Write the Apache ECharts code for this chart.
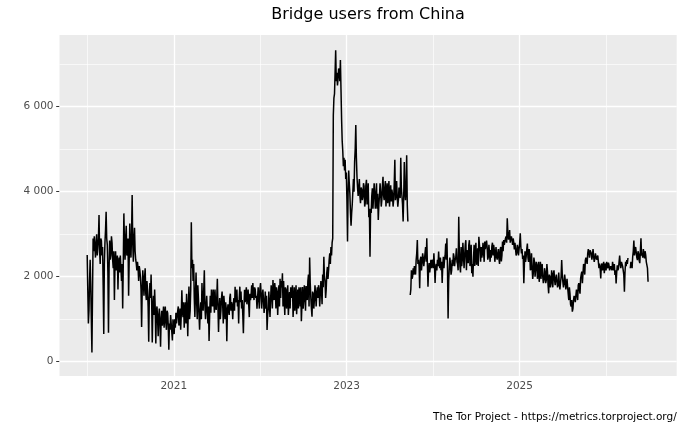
<!DOCTYPE html>
<html><head><meta charset="utf-8">
<script src="https://cdn.jsdelivr.net/npm/echarts@6/dist/echarts.min.js"></script>
<style>html,body{margin:0;padding:0;background:#fff}#chart{width:690px;height:431px}</style>
</head><body><div id="chart"></div>
<script>
const titleText = 'Bridge users from China';
const captionText = 'The Tor Project - https://metrics.torproject.org/';
const startDate = '2020-01-01';
const stepDays = 5;
// readings every 5 days from startDate
const users = [
2510,900,1900,1800,220,2900,2950,2450,3000,2700,
3450,2300,2850,2700,650,2800,3530,2750,680,2850,
2500,2800,2200,1450,2600,2300,1700,2450,2500,1900,
1250,3490,2400,3200,2550,1550,3250,2450,3920,2350,
3150,2400,2150,2200,2250,2000,820,2150,1550,2200,
1450,1700,470,1850,2050,450,1550,1700,430,1300,
600,1250,350,1200,1050,800,1300,750,1150,280,
750,900,500,860,1000,1150,1050,1300,1000,750,
1680,1050,800,1400,1600,600,1770,1200,3280,2400,
2300,1050,2100,1000,1500,750,1400,1850,1200,2150,
1000,1550,900,490,1550,1700,1300,1500,1700,1220,
1950,700,1500,1200,1650,900,1350,1400,480,1350,
1100,1600,1400,
1000,1500,1766,1450,1300,900,1766,1650,1450,668,
1690,1600,1350,1700,1050,1450,1800,1850,1450,1700,
1550,1500,1480,1720,1600,1550,1450,1350,1250,745,
1250,1370,1450,1600,1920,1450,1680,1750,1100,1800,
1950,1900,2080,1900,1100,1700,1550,1100,1640,1750,
1500,1050,1750,1500,1120,1700,1750,1300,950,1760,
1450,1600,1780,1450,2050,2450,1500,1060,1600,1450,
1620,1600,1500,1700,1600,1680,2050,2470,1900,1700,
2230,2150,2550,2700,2800,5800,6300,7330,6800,6650,
6850,7100,5700,4950,4800,4750,4450,2830,4500,3950,
3200,3700,4300,4700,5570,4350,3900,4300,3730,4050,
3880,4130,3730,4280,3820,3400,2470,3500,4080,3880,
4000,3800,3600,3335,3900,4000,3800,4350,3800,4250,
3950,3730,4250,3900,3770,3950,3800,4750,3900,3880,
3800,4000,4800,3900,3300,4700,3800,4860,3300,null,
1570,2150,2000,2050,2240,2390,2864,2400,1727,2470,
2320,2430,2400,2700,2903,1765,2320,2250,2200,2320,
2550,1850,2300,2400,2590,2200,2150,1850,2470,2400,
2780,2903,1020,2200,2300,2150,2250,2470,2400,2670,
2300,3413,2250,2700,2400,2780,2470,2860,2630,2320,
2860,2450,2080,2000,2750,2550,2280,2670,2940,2630,
2700,2550,2790,2830,2630,2700,2470,2560,2630,2720,
2500,2640,2500,2470,2550,2420,2630,2360,2830,2860,
2780,2950,3373,2870,3100,2900,2870,2900,2640,2660,
2550,2670,2650,3020,2550,2420,1844,2600,2470,2780,
2350,2550,2200,2220,2080,2350,2000,2280,2200,1880,
2350,2200,2000,1920,2120,1920,2120,1609,2000,1840,
2000,2080,1920,1960,2040,1800,1840,1720,2393,1880,
1840,1920,1800,1760,1450,1610,1295,1177,1450,1500,
1560,1690,1800,1690,1960,2120,2080,2240,2390,2470,
2550,2590,2620,2550,2510,2470,2430,2510,2390,2350,
2310,1960,2310,2280,2080,2310,2350,2200,2270,2120,
2240,2350,2150,2040,1840,2270,2200,2500,2200,2390,
2240,1648,2350,2390,2440,null,2200,2280,2470,2850,
2470,2660,2390,2550,2320,2903,2550,2650,2430,2510,2390,1883
];
// readings half-way between consecutive entries of users (2.5 days later)
const usersMid = [
1700,1200,2400,1000,1600,2600,2700,2800,2500,2900,
2600,2900,2500,1800,2300,3100,2900,2100,2200,2400,
2950,2400,2600,2300,2150,2500,2300,2100,2200,2300,
2300,2800,2900,2500,2900,2400,2700,3000,2800,2900,
2600,2300,2350,1900,2150,1700,1700,1900,2000,1600,
1900,1300,1500,1500,1400,1300,1100,1250,1200,1000,
1100,900,1000,850,1300,1100,900,1200,850,900,
1100,700,1000,650,800,900,1200,850,1250,1100,
1200,1400,1200,900,1250,1300,1000,1700,2200,1900,
1500,1600,1400,1800,1100,1200,1000,1300,1700,1300,
1300,1200,1300,1100,1150,1400,1700,1150,1350,1500,
1300,1250,1000,1500,1350,1550,1000,1250,1200,1200,
1500,1200,1300,
1350,1200,1400,1700,1450,1500,1400,1250,1100,1300,
1400,1750,1550,1350,1600,1550,1500,1600,1750,1500,
1250,1750,1250,1850,1250,1700,1150,1650,1550,1100,
1650,1050,1800,1250,1600,1850,1250,1650,1500,1300,
1500,1750,1300,1450,1750,1250,1800,1400,1250,1500,
1800,1400,1200,1800,1450,1250,1650,1750,1350,1250,
1800,1200,1700,1900,1300,1850,1250,1650,1250,1800,
1300,1750,1800,1300,1900,1350,1750,2000,1500,2100,
1950,2400,2300,2500,2900,6200,6800,6600,6500,6900,
6600,6400,5200,4600,4500,4300,3800,4000,4200,3500,
3500,4000,4000,5000,4800,4100,4100,3900,4100,3800,
4200,3650,4150,3700,4200,3600,3600,3900,3600,4200,
3600,4200,3950,3700,4200,3650,4150,3900,4100,3650,
4200,3950,3650,4150,4050,3650,4200,3800,4250,3650,
4100,3850,4100,3700,3900,4000,4100,3700,null,null,
1700,1950,2200,2250,2050,2550,2300,2250,2400,2150,
2550,2250,2550,2350,2300,2150,2100,2400,2400,2200,
2250,2200,2150,2250,2300,2450,2350,2250,2200,2500,
2400,2200,1900,2450,2050,2400,2550,2250,2450,2350,
2150,2600,2100,2250,2800,2200,2750,2150,2450,2750,
2250,2750,2300,2450,2250,2800,2400,2250,2750,2350,
2450,2800,2350,2650,2850,2400,2750,2350,2450,2800,
2750,2350,2700,2400,2650,2300,2700,2500,2600,2750,
2900,2800,3050,2950,2800,2950,2750,2800,2800,2500,
2750,2500,2800,2700,2650,2500,2300,2350,2650,2450,
2650,2150,2550,1950,2450,2000,2350,1950,2350,2050,
1950,2300,1850,2200,1850,2300,1800,2050,1750,2150,
1750,2150,1800,2050,1750,2100,1700,2000,2050,1750,
2050,1700,1950,1600,1750,1350,1450,1250,1550,1400,
1700,1450,1850,1600,2050,1850,2300,2050,2450,2300,
2650,2450,2600,2400,2650,2350,2550,2400,2500,2200,
2200,2250,2150,2350,2250,2150,2250,2330,2150,2250,
2150,2250,2300,2150,2100,2150,2350,2300,2350,2250,
2050,2100,2250,2300,null,null,2350,2200,2600,2500,
2700,2450,2600,2380,2600,2500,2450,2550,2600,2350,2200
];
const xMajorYears = [2021, 2023, 2025];
const xMinorYears = [2020, 2022, 2024, 2026];
const yMajorTicks = [0, 2000, 4000, 6000];
const yMinorTicks = [1000, 3000, 5000, 7000];
const xRange = ['2019-09-06', '2026-10-27'];
const yRange = [-336, 7687];

const DAY = 86400000;
const utc = s => { const p = s.split('-').map(Number); return Date.UTC(p[0], p[1] - 1, p[2]); };
const yearTs = y => Date.UTC(y, 0, 1);
const t0 = utc(startDate);
const seriesData = [];
users.forEach((v, i) => {
  seriesData.push([t0 + i * stepDays * DAY, v]);
  if (i < usersMid.length && i < users.length - 1) seriesData.push([t0 + (i + 0.5) * stepDays * DAY, usersMid[i]]);
});
const fmtNum = v => String(v).replace(/\B(?=(\d{3})+(?!\d))/g, ' ');
const FONT = 'DejaVu Sans';
const majorW = 1.3, minorW = 0.65;

const gridLines = []
  .concat(xMajorYears.map(y => ({xAxis: yearTs(y), lineStyle: {color: '#fff', width: majorW, type: 'solid'}})))
  .concat(xMinorYears.map(y => ({xAxis: yearTs(y), lineStyle: {color: '#fff', width: minorW, type: 'solid'}})))
  .concat(yMajorTicks.map(v => ({yAxis: v, lineStyle: {color: '#fff', width: majorW, type: 'solid'}})))
  .concat(yMinorTicks.map(v => ({yAxis: v, lineStyle: {color: '#fff', width: minorW, type: 'solid'}})));

const chart = echarts.init(document.getElementById('chart'), null, {renderer: 'canvas'});
chart.setOption({
  animation: false,
  backgroundColor: '#fff',
  textStyle: {fontFamily: FONT},
  title: [
    {text: titleText, left: 368, top: 7, padding: 0, textAlign: 'center',
     textStyle: {fontFamily: FONT, fontSize: 16, fontWeight: 'normal', color: '#000'}},
    {text: captionText, right: 13.3, top: 412, padding: 0,
     textStyle: {fontFamily: FONT, fontSize: 10.5, fontWeight: 'normal', color: '#000'}}
  ],
  grid: {left: 59.5, right: 13.3, top: 35, bottom: 55, show: true, backgroundColor: '#EBEBEB',
         borderWidth: 0, containLabel: false, outerBoundsMode: 'none'},
  xAxis: {
    type: 'value', min: utc(xRange[0]), max: utc(xRange[1]), scale: true,
    splitLine: {show: false}, axisLine: {show: false},
    axisTick: {show: true, customValues: xMajorYears.map(yearTs), length: 3.3, lineStyle: {color: '#333', width: 1}},
    axisLabel: {customValues: xMajorYears.map(yearTs), formatter: v => String(new Date(v).getUTCFullYear()),
                color: '#4D4D4D', fontSize: 10.5, margin: 5, fontFamily: FONT}
  },
  yAxis: {
    type: 'value', min: yRange[0], max: yRange[1],
    splitLine: {show: false}, axisLine: {show: false},
    axisTick: {show: true, customValues: yMajorTicks, length: 3.3, lineStyle: {color: '#333', width: 1}},
    axisLabel: {customValues: yMajorTicks, formatter: v => fmtNum(v), color: '#4D4D4D', fontSize: 10.5, margin: 6, fontFamily: FONT}
  },
  series: [{
    type: 'line', data: seriesData, showSymbol: false, symbol: 'none', connectNulls: false,
    lineStyle: {color: '#000', width: 1.5}, z: 2, silent: true, sampling: null,
    markLine: {silent: true, symbol: ['none', 'none'], z: 1, animation: false,
               label: {show: false}, emphasis: {disabled: true}, data: gridLines}
  }]
});
</script></body></html>
